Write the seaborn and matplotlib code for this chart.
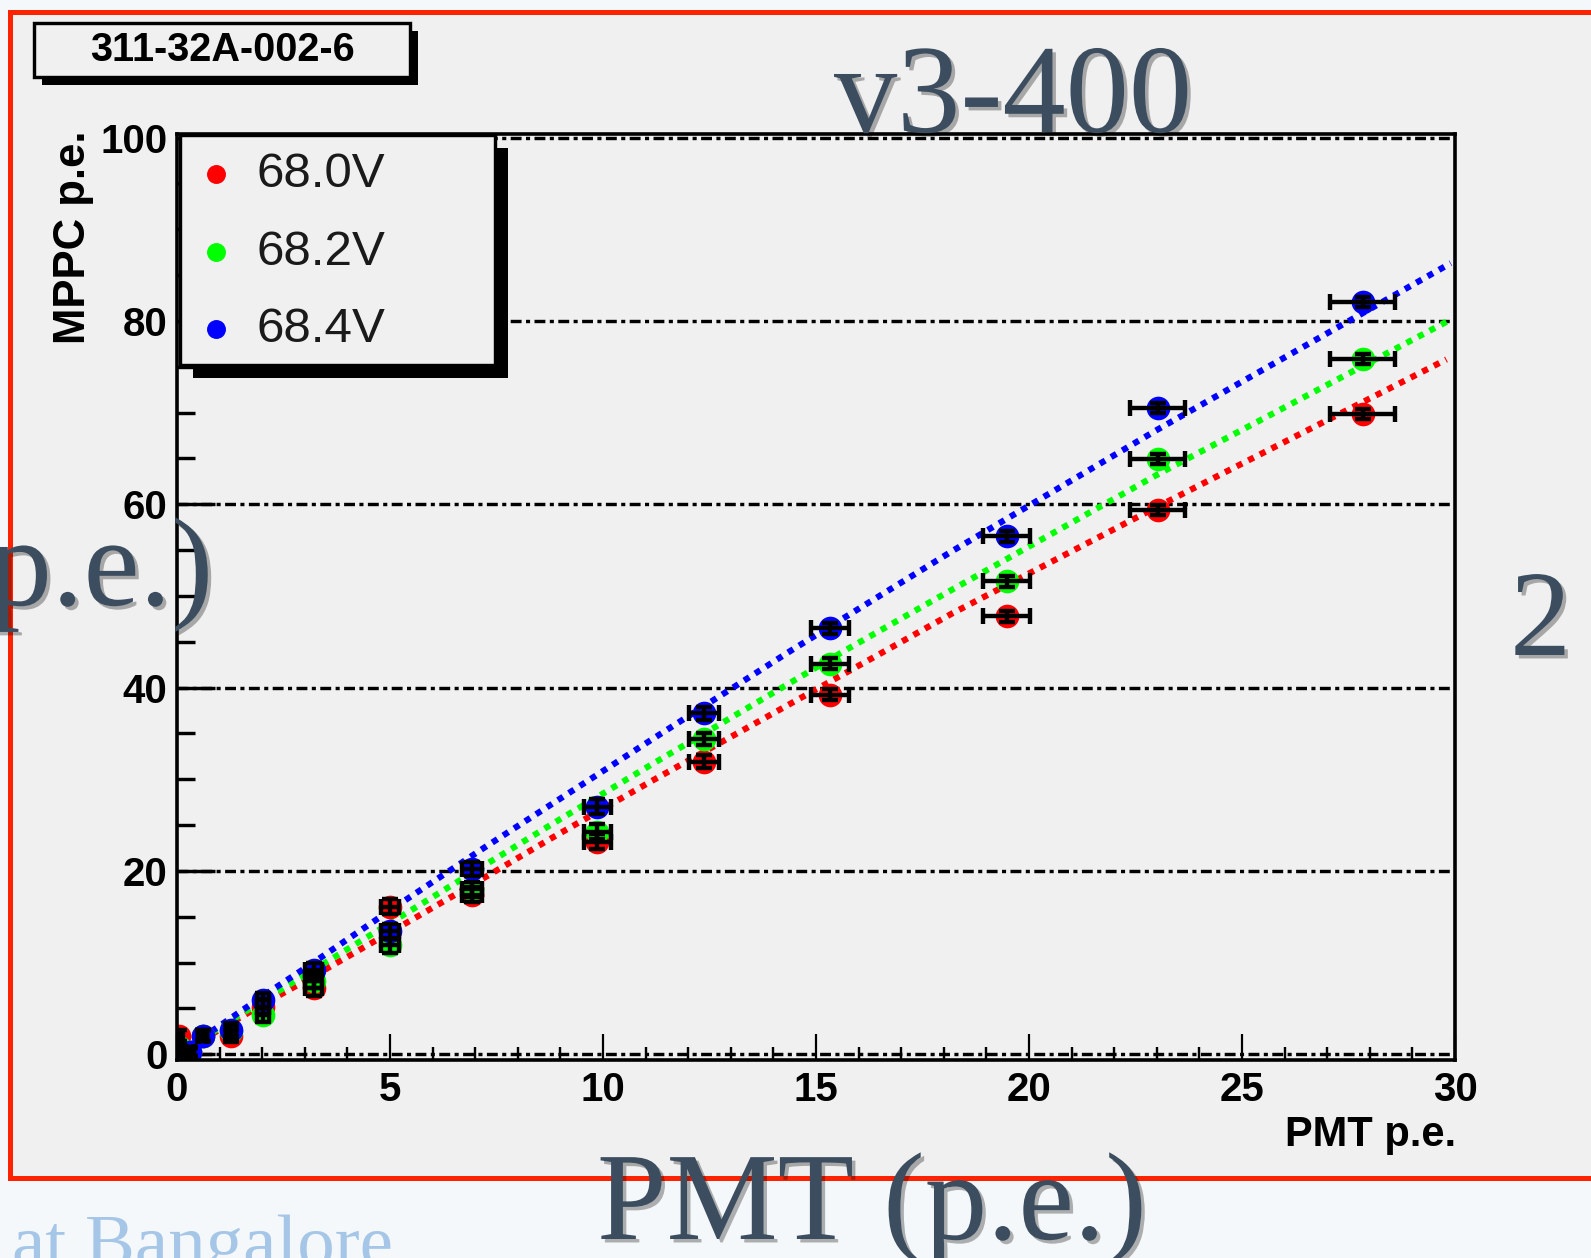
import matplotlib
matplotlib.use("Agg")
import matplotlib.pyplot as plt
import matplotlib.patheffects as pe
from matplotlib.patches import Rectangle
from matplotlib.transforms import Affine2D
from matplotlib.ticker import MultipleLocator
import seaborn as sns

# ---------------------------------------------------------------- data
pmt_pe = [0.05, 0.3, 0.6, 1.27, 2.02, 3.21, 5.0, 6.93, 9.87, 12.37, 15.33, 19.48, 23.02, 27.83]
pmt_err = [0.1, 0.1, 0.1, 0.12, 0.15, 0.2, 0.2, 0.23, 0.32, 0.35, 0.45, 0.55, 0.64, 0.76]

mppc_680 = [2.0, 0.3, 2.0, 2.0, 5.2, 7.2, 16.1, 17.4, 23.2, 31.9, 39.2, 47.8, 59.4, 69.8]
mppc_682 = [0.8, 0.3, 2.0, 2.5, 4.3, 8.0, 11.9, 18.0, 24.3, 34.4, 42.6, 51.6, 64.9, 75.8]
mppc_684 = [0.4, 0.2, 2.0, 2.7, 5.9, 9.2, 13.4, 20.2, 27.0, 37.2, 46.5, 56.5, 70.5, 82.1]
mppc_err = [0.6, 0.5, 0.6, 0.7, 0.8, 0.8, 0.8, 0.8, 0.8, 0.7, 0.6, 0.6, 0.55, 0.55]

fit_x_680 = [0.3, 1.0, 2.0, 3.2, 5.0, 6.9, 8.8, 11.1, 16.7, 18.2, 23.0, 29.8]
fit_y_680 = [0.7, 2.7, 5.4, 8.5, 13.3, 18.4, 23.6, 29.7, 44.2, 48.1, 59.7, 75.8]
fit_x_682 = [0.3, 1.0, 2.0, 3.2, 5.0, 7.0, 8.8, 11.1, 15.7, 18.2, 23.0, 29.8]
fit_y_682 = [0.8, 2.9, 5.8, 9.2, 14.3, 20.0, 25.1, 31.5, 44.1, 50.7, 63.2, 79.9]
fit_x_684 = [0.3, 1.0, 2.0, 3.2, 5.0, 7.2, 8.8, 11.1, 14.4, 18.2, 23.0, 29.9]
fit_y_684 = [0.9, 3.1, 6.3, 10.0, 15.7, 22.5, 27.3, 34.2, 44.0, 54.9, 68.1, 86.3]

voltages = ["68.0V", "68.2V", "68.4V"]
colors = ["#ff0000", "#00ff00", "#0000ff"]
series = [mppc_680, mppc_682, mppc_684]
fits = [(fit_x_680, fit_y_680), (fit_x_682, fit_y_682), (fit_x_684, fit_y_684)]

y_ticks = [0, 20, 40, 60, 80, 100]
x_ticks = [0, 5, 10, 15, 20, 25, 30]

# ---------------------------------------------------------------- style
sns.set_theme(style="white")
plt.rcParams["font.family"] = ["Liberation Sans", "DejaVu Sans"]

W, H = 1591, 1258
PX = 0.72  # points per pixel at 100 dpi
fig = plt.figure(figsize=(W / 100, H / 100), dpi=100)
fig.patch.set_facecolor("#f5f8fa")

# pixel coordinates measured from the top-left corner
pxT = Affine2D().scale(1 / W, -1 / H).translate(0, 1) + fig.transFigure

# canvas with red frame
fig.add_artist(Rectangle((10, 11.5), W + 40, 1178 - 11.5, transform=pxT,
                         facecolor="#f0f0f0", edgecolor="#ff2200",
                         linewidth=5 * PX, zorder=-1))

ax_l, ax_r, ax_t, ax_b = 177, 1455, 134, 1059.5
ax = fig.add_axes([ax_l / W, 1 - ax_b / H, (ax_r - ax_l) / W, (ax_b - ax_t) / H])
ax.set_facecolor("#f0f0f0")
ax.set_xlim(0, 30)
ax.set_ylim(-0.57, 100.39)

# ---------------------------------------------------------------- marks
for (fx, fy), c in zip(fits, colors):
    sns.lineplot(x=fx, y=fy, color=c, ax=ax, lw=6.2 * PX, sort=False,
                 estimator=None, linestyle=(0, (1.0, 1.1)), zorder=2,
                 legend=False)

for ys, c, v in zip(series, colors, voltages):
    sns.scatterplot(x=pmt_pe, y=ys, color=c, s=290, linewidth=0, ax=ax,
                    zorder=3, label=v, legend=False)
    ax.errorbar(pmt_pe, ys, xerr=pmt_err, yerr=mppc_err, fmt="none",
                ecolor="black", elinewidth=4.4 * PX, capsize=6,
                capthick=4.4 * PX, zorder=4)

# ---------------------------------------------------------------- axes
for s in ax.spines.values():
    s.set_visible(True)
    s.set_color("black")
    s.set_linewidth(3.6 * PX)
    s.set_zorder(6)

ax.set_xticks(x_ticks)
ax.set_yticks(y_ticks)
ax.xaxis.set_minor_locator(MultipleLocator(1))
ax.yaxis.set_minor_locator(MultipleLocator(5))
ax.tick_params(axis="both", which="both", direction="in", colors="black",
               top=False, right=False, bottom=True, left=True)
ax.tick_params(axis="y", which="major", length=38 * PX, width=3.4 * PX,
               pad=7, labelsize=29)
ax.tick_params(axis="y", which="minor", length=18 * PX, width=3.4 * PX)
ax.tick_params(axis="x", which="major", length=26 * PX, width=2.2 * PX,
               pad=8, labelsize=29)
ax.tick_params(axis="x", which="minor", length=13 * PX, width=2.4 * PX)
for lab in ax.get_xticklabels() + ax.get_yticklabels():
    lab.set_fontweight("bold")
    lab.set_color("black")

ax.set_axisbelow(True)
ax.yaxis.grid(True, which="major", color="black", linewidth=3.4 * PX,
              linestyle=(0, (3.2, 1.3, 1.2, 1.3)))
ax.xaxis.grid(False)

fig.text(73, 130, "MPPC p.e.", transform=pxT, rotation=90, ha="center",
         va="top", fontsize=31.5, fontweight="bold", color="black")
fig.text(1456, 1146, "PMT p.e.", transform=pxT, ha="right", va="baseline",
         fontsize=30, fontweight="bold", color="black")

# ---------------------------------------------------------------- title box
fig.add_artist(Rectangle((41.5, 31), 376.5, 54, transform=pxT,
                         facecolor="black", edgecolor="none", zorder=1))
fig.add_artist(Rectangle((33.5, 23), 376.5, 54, transform=pxT,
                         facecolor="#f0f0f0", edgecolor="black",
                         linewidth=3.4 * PX, zorder=1.1))
fig.text(222, 50, "311-32A-002-6", transform=pxT, ha="center", va="center",
         fontsize=28.5, fontweight="bold", color="black", zorder=1.2)

# ---------------------------------------------------------------- legend
fig.add_artist(Rectangle((193, 148), 315, 230, transform=pxT,
                         facecolor="black", edgecolor="none", zorder=7))
fig.add_artist(Rectangle((179.6, 135), 315.4, 230, transform=pxT,
                         facecolor="#f0f0f0", edgecolor="black",
                         linewidth=3.4 * PX, zorder=7.1))
handles, labels = ax.get_legend_handles_labels()
leg = fig.legend(handles, labels, loc="upper left",
                 bbox_to_anchor=(191.7, 152), bbox_transform=pxT,
                 frameon=False, fontsize=35.5, borderpad=0, borderaxespad=0,
                 handlelength=1.0, handletextpad=0.32, labelspacing=0.66,
                 markerscale=0.8, scatterpoints=1)
leg.set_zorder(8)
for t in leg.get_texts():
    t.set_color("#1a1a1a")

# ---------------------------------------------------------------- slide text
slate = "#3b4d5e"
shadow = [pe.withSimplePatchShadow(offset=(2.5, -2.5), shadow_rgbFace="black",
                                   alpha=0.3)]
serif = ["Liberation Serif", "DejaVu Serif"]
fig.text(834, 132, "v3-400", transform=pxT, ha="left", va="baseline",
         fontsize=91, family=serif, color=slate, path_effects=shadow, zorder=20)
fig.text(213, 605, "(p.e.)", transform=pxT, ha="right", va="baseline",
         fontsize=91, family=serif, color=slate, path_effects=shadow, zorder=20)
fig.text(1510, 655, "2", transform=pxT, ha="left", va="baseline",
         fontsize=88, family=serif, color=slate, path_effects=shadow, zorder=20)
fig.text(597, 1239, "PMT (p.e.)", transform=pxT, ha="left", va="baseline",
         fontsize=90, family=serif, color=slate, path_effects=shadow, zorder=20)
fig.text(12, 1266, "at Bangalore", transform=pxT, ha="left", va="baseline",
         fontsize=54, family=serif, color="#a6c6e8", zorder=20)

fig.savefig("out.png", dpi=100, facecolor=fig.get_facecolor())
